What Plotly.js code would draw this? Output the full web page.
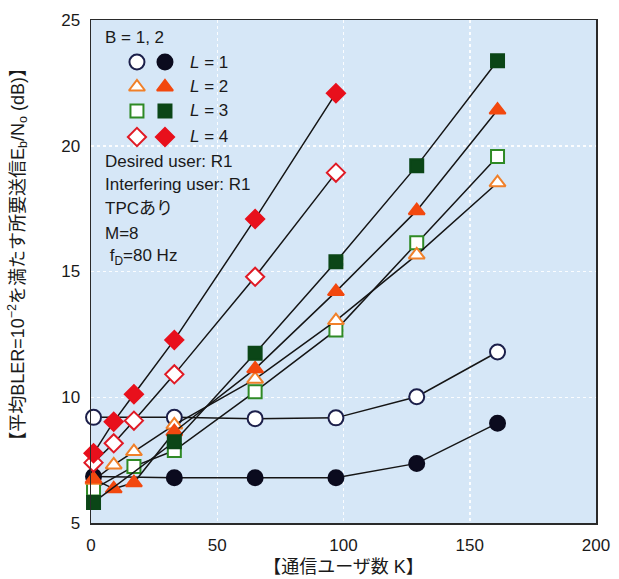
<!DOCTYPE html>
<html>
<head>
<meta charset="utf-8">
<script src="https://cdn.plot.ly/plotly-3.0.1.min.js"></script>
<style>html,body{margin:0;padding:0;background:#fff;}#chart{width:619px;height:579px;}</style>
</head>
<body>
<div id="chart"></div>
<script>
// ---- data ----
const K_L1 = [1, 33, 65, 97, 129, 161];
const L1_open = [9.2, 9.2, 9.15, 9.18, 10.02, 11.8];
const L1_filled = [6.85, 6.8, 6.8, 6.8, 7.37, 8.97];
const K_L2 = [1, 9, 17, 33, 65, 97, 129, 161];
const L2_open = [6.7, 7.31, 7.84, 8.9, 10.72, 13.05, 15.66, 18.53];
const L2_filled = [6.75, 6.36, 6.6, 8.63, 11.13, 14.2, 17.42, 21.42];
const K_L3_open = [1, 17, 33, 65, 97, 129, 161];
const L3_open = [6.35, 7.25, 7.88, 10.22, 12.67, 16.14, 19.57];
const K_L3_filled = [1, 33, 65, 97, 129, 161];
const L3_filled = [5.82, 8.23, 11.75, 15.39, 19.2, 23.38];
const K_L4 = [1, 9, 17, 33, 65, 97];
const L4_open = [7.4, 8.17, 9.07, 10.91, 14.79, 18.93];
const L4_filled = [7.77, 9.03, 10.12, 12.28, 17.09, 22.09];

const xTicks = [0, 50, 100, 150, 200];
const yTicks = [5, 10, 15, 20, 25];
const legendLabels = ['<i>L</i> = 1', '<i>L</i> = 2', '<i>L</i> = 3', '<i>L</i> = 4'];
const infoLines = ['Desired user: R1', 'Interfering user: R1', 'TPCあり', 'M=8', ' f<sub>D</sub>=80 Hz'];
const headerText = 'B = 1, 2';
const xTitle = '【通信ユーザ数 K】';
const yTitle = '【平均BLER=10<sup>−2</sup>を満たす所要送信E<sub>b</sub>/N<sub>o</sub> (dB)】';

// ---- styles ----
const FONT = '"Liberation Sans", Arial, "Noto Sans CJK JP", sans-serif';
const styles = [
  {symbol: 'circle', size: 15, open: {color: '#ffffff', line: '#1c1f4a'}, filled: {color: '#0b0b1e', line: '#0b0b1e'}},
  {symbol: 'triangle-up', size: 14, open: {color: '#ffffff', line: '#f0802a'}, filled: {color: '#f2480f', line: '#f2480f'}},
  {symbol: 'square', size: 13, open: {color: '#ffffff', line: '#2f8a25'}, filled: {color: '#0b4617', line: '#0b4617'}},
  {symbol: 'diamond', size: 14, open: {color: '#ffffff', line: '#e01a25'}, filled: {color: '#e8101c', line: '#e8101c'}}
];

function series(x, y, s, kind) {
  const st = styles[s][kind];
  return {
    x: x, y: y, type: 'scatter', mode: 'lines+markers', showlegend: false,
    line: {color: '#151515', width: 1.5},
    marker: {symbol: styles[s].symbol, size: styles[s].size, color: st.color, line: {color: st.line, width: 2}},
    cliponaxis: false, hoverinfo: 'x+y'
  };
}

const traces = [
  series(K_L1, L1_open, 0, 'open'),
  series(K_L1, L1_filled, 0, 'filled'),
  series(K_L3_open, L3_open, 2, 'open'),
  series(K_L2, L2_open, 1, 'open'),
  series(K_L2, L2_filled, 1, 'filled'),
  series(K_L3_filled, L3_filled, 2, 'filled'),
  series(K_L4, L4_open, 3, 'open'),
  series(K_L4, L4_filled, 3, 'filled')
];

// legend keys on an overlay axis spanning the plot area (0..1)
const legRowY = [0.9165, 0.8668, 0.8191, 0.7674];
const legOpenX = 0.091, legFilledX = 0.1465;
styles.forEach((s, i) => {
  ['open', 'filled'].forEach(kind => {
    traces.push({
      x: [kind === 'open' ? legOpenX : legFilledX], y: [legRowY[i]],
      xaxis: 'x2', yaxis: 'y2', type: 'scatter', mode: 'markers', showlegend: false, hoverinfo: 'skip',
      marker: {symbol: s.symbol, size: s.size, color: s[kind].color, line: {color: s[kind].line, width: 2}}
    });
  });
});

const TXT = {family: FONT, size: 17, color: '#1a1a1a'};
const annotations = [];
annotations.push({xref: 'paper', yref: 'paper', x: 0.0238, y: 0.9662, xanchor: 'left', yanchor: 'middle', showarrow: false, text: headerText, font: TXT});
legendLabels.forEach((t, i) => annotations.push({xref: 'paper', yref: 'paper', x: 0.192, y: legRowY[i], xanchor: 'left', yanchor: 'middle', showarrow: false, text: t, font: TXT}));
const infoY = [0.7177, 0.6720, 0.6262, 0.5765, 0.5288];
infoLines.forEach((t, i) => annotations.push({xref: 'paper', yref: 'paper', x: 0.0238, y: infoY[i], xanchor: 'left', yanchor: 'middle', showarrow: false, text: t, font: TXT}));
annotations.push({xref: 'paper', yref: 'paper', x: -0.1446, y: 0.535, xanchor: 'center', yanchor: 'middle', textangle: -90, showarrow: false, text: yTitle, font: {family: FONT, size: 18, color: '#1a1a1a'}});

const axisCommon = {
  showline: true, mirror: true, linecolor: '#2a2a2a', linewidth: 1.5,
  showgrid: true, gridcolor: 'rgba(255,255,255,0.9)', gridwidth: 1.5, griddash: 'dot',
  zeroline: false, ticks: 'outside', ticklen: 6, tickcolor: 'rgba(0,0,0,0)',
  tickfont: {family: FONT, size: 17, color: '#1a1a1a'}, fixedrange: true
};

const layout = {
  width: 619, height: 579,
  margin: {l: 91, r: 23, t: 20, b: 56},
  paper_bgcolor: '#ffffff', plot_bgcolor: 'rgb(214,231,247)',
  font: {family: FONT, color: '#1a1a1a'},
  xaxis: Object.assign({}, axisCommon, {range: [0, 200], tickvals: xTicks, ticktext: xTicks.map(String),
    title: {text: xTitle, font: {family: FONT, size: 18, color: '#1a1a1a'}, standoff: 6}}),
  yaxis: Object.assign({}, axisCommon, {range: [5, 25], tickvals: yTicks, ticktext: yTicks.map(String)}),
  xaxis2: {overlaying: 'x', range: [0, 1], visible: false, fixedrange: true},
  yaxis2: {overlaying: 'y', range: [0, 1], visible: false, fixedrange: true},
  annotations: annotations,
  showlegend: false
};

Plotly.newPlot('chart', traces, layout, {displayModeBar: false, staticPlot: true});
</script>
</body>
</html>
